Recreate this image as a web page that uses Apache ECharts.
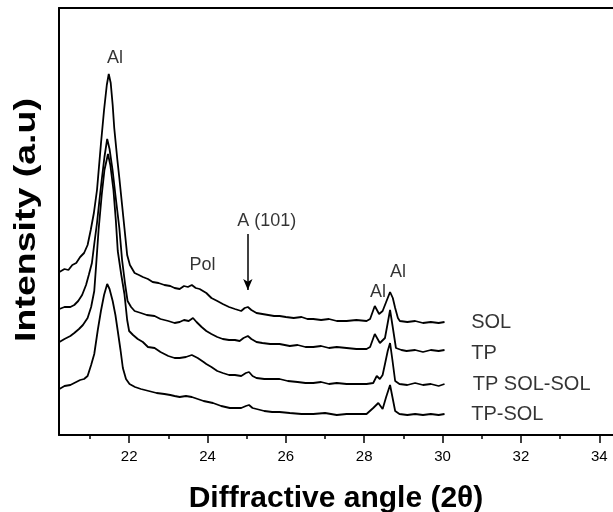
<!DOCTYPE html>
<html>
<head>
<meta charset="utf-8">
<script src="https://cdn.jsdelivr.net/npm/echarts@6/dist/echarts.min.js"></script>
<style>
  html, body { margin: 0; padding: 0; background: #fff; }
  #chart { width: 613px; height: 512px; }
</style>
</head>
<body>
<div id="chart"></div>
<script>
// XRD patterns, intensity in arbitrary units (curves stacked by offset)
var sol = [
  [20.22,163],[20.35,166],[20.45,165],[20.55,170],[20.65,172],[20.75,178],[20.85,182],[20.94,190],
  [21.02,205],[21.10,222],[21.18,245],[21.28,291],[21.36,325],[21.43,350],[21.48,361],[21.53,352],
  [21.58,330],[21.62,307],[21.70,275],[21.75,257],[21.82,230],[21.88,207],[21.95,180],[22.02,170],
  [22.14,162],[22.25,160],[22.35,158],[22.48,156],[22.60,153],[22.75,152],[22.90,150],[23.05,149],
  [23.16,147],[23.29,146],[23.40,149],[23.50,148],[23.60,150],[23.70,147],[23.80,146],[23.97,142],
  [24.10,137],[24.25,134],[24.39,131],[24.55,128],[24.70,126],[24.86,124],[24.95,127],[25.03,128],
  [25.12,125],[25.25,122],[25.40,121],[25.55,120],[25.70,119],[25.84,119],[26.00,118],[26.20,117],
  [26.40,118],[26.55,116],[26.70,116],[26.90,115],[27.10,116],[27.30,114],[27.55,114],[27.80,115],
  [28.06,114],[28.15,116],[28.27,129],[28.38,121],[28.47,124],[28.56,133],[28.66,143],[28.73,137],
  [28.79,127],[28.86,117],[28.91,114],[29.10,113],[29.30,114],[29.50,112],[29.70,113],[29.90,112],[30.05,113]
];
var tp = [
  [20.22,126],[20.35,128],[20.50,128],[20.60,130],[20.70,134],[20.80,140],[20.90,150],[20.97,160],
  [21.05,172],[21.11,191],[21.18,212],[21.24,234],[21.30,255],[21.37,278],[21.44,296],[21.50,286],
  [21.58,264],[21.65,240],[21.75,207],[21.82,175],[21.90,150],[21.96,134],[22.05,128],[22.14,124],
  [22.30,122],[22.45,120],[22.65,119],[22.80,116],[23.00,114],[23.16,112],[23.29,113],[23.40,115],
  [23.52,114],[23.63,117],[23.72,113],[23.85,108],[23.97,104],[24.10,101],[24.25,98],[24.39,96],
  [24.55,95],[24.70,95],[24.82,94],[24.92,97],[25.03,99],[25.12,96],[25.25,93],[25.40,92],
  [25.60,91],[25.84,91],[26.10,89],[26.30,90],[26.50,88],[26.70,88],[26.90,89],[27.10,87],
  [27.30,88],[27.55,87],[27.80,86],[28.06,86],[28.15,88],[28.27,101],[28.40,92],[28.53,97],
  [28.60,112],[28.66,125],[28.72,110],[28.81,87],[28.95,85],[29.08,84],[29.30,85],[29.50,83],
  [29.70,85],[29.90,84],[30.05,85]
];
var tpSolSol = [
  [20.22,93],[20.35,96],[20.50,99],[20.60,102],[20.72,106],[20.82,110],[20.94,117],[21.03,128],
  [21.11,144],[21.16,171],[21.22,205],[21.30,240],[21.37,265],[21.46,281],[21.52,270],[21.60,245],
  [21.66,215],[21.71,184],[21.80,160],[21.88,141],[21.95,115],[22.00,104],[22.10,100],[22.22,96],
  [22.35,93],[22.48,88],[22.65,87],[22.80,83],[23.00,79],[23.16,77],[23.29,77],[23.45,78],
  [23.60,80],[23.75,77],[23.90,73],[23.97,71],[24.10,68],[24.25,64],[24.39,62],[24.55,60],
  [24.70,60],[24.86,59],[24.98,62],[25.06,63],[25.15,59],[25.25,57],[25.45,56],[25.65,56],
  [25.84,56],[26.05,54],[26.30,53],[26.50,52],[26.70,52],[26.90,53],[27.10,51],[27.30,52],
  [27.55,51],[27.80,51],[28.06,51],[28.23,52],[28.32,59],[28.40,56],[28.47,60],[28.53,71],
  [28.60,84],[28.66,92],[28.72,75],[28.79,54],[28.90,51],[29.10,50],[29.30,52],[29.50,50],
  [29.70,51],[29.90,49],[30.05,51]
];
var tpSol = [
  [20.22,46],[20.35,49],[20.50,50],[20.60,52],[20.75,55],[20.85,56],[20.94,59],[21.03,70],
  [21.11,81],[21.20,105],[21.28,124],[21.36,140],[21.44,151],[21.50,146],[21.58,134],[21.65,120],
  [21.71,104],[21.78,85],[21.84,67],[21.92,56],[22.01,51],[22.15,48],[22.30,46],[22.50,44],
  [22.70,42],[22.90,41],[23.05,40],[23.16,39],[23.29,38],[23.45,39],[23.60,38],[23.75,36],
  [23.90,34],[24.14,32],[24.35,29],[24.57,27],[24.75,27],[24.86,27],[24.98,29],[25.06,30],
  [25.15,27],[25.25,26],[25.45,24],[25.65,23],[25.84,23],[26.10,22],[26.40,21],[26.70,21],
  [27.00,22],[27.30,20],[27.55,21],[27.80,21],[28.06,21],[28.23,27],[28.36,32],[28.47,26],
  [28.56,38],[28.66,50],[28.72,38],[28.79,24],[28.90,21],[29.10,20],[29.30,21],[29.50,20],
  [29.70,21],[29.90,20],[30.05,21]
];
var majorTicks = [22, 24, 26, 28, 30, 32, 34];
var minorTicks = [21, 23, 25, 27, 29, 31, 33];
// peak labels: x, intensity, text
var peakNotes = [
  [21.64, 377, 'Al'],
  [23.87, 170, 'Pol'],
  [25.51, 214, 'A (101)'],
  [28.86, 163, 'Al'],
  [28.35, 143, 'Al']
];
// sample names at the right, left aligned
var sampleNotes = [
  [30.73, 113, 'SOL'],
  [30.73, 82, 'TP'],
  [30.77, 51, 'TP SOL-SOL'],
  [30.73, 21, 'TP-SOL']
];
var arrowA = [[25.03, 201], [25.03, 145]];

var font = 'Liberation Sans, Arial, sans-serif';
var xMin = 20.21, xMax = 34.35;
var chart = echarts.init(document.getElementById('chart'));

function curve(name, data) {
  return {
    name: name,
    type: 'line',
    data: data,
    symbol: 'none',
    lineStyle: { color: '#000', width: 1.8 }
  };
}

function notes(data, position, size) {
  return {
    type: 'scatter', data: data, symbolSize: 0, silent: true,
    itemStyle: { color: 'transparent' },
    label: {
      show: true, position: position, distance: 0, color: '#000', fontSize: size, fontFamily: font,
      formatter: function (p) { return p.value[2]; }
    }
  };
}

chart.setOption({
  animation: false,
  grid: { left: 59, right: 0, top: 8, bottom: 77, outerBoundsMode: 'none' },
  // y title is stretched along its length like the scanned original
  graphic: [{
    type: 'text', x: 27, y: 220, rotation: Math.PI / 2, scaleX: 1.25,
    style: {
      text: 'Intensity (a.u)', fill: '#000', font: 'bold 30px ' + font,
      align: 'center', verticalAlign: 'middle'
    }
  }],
  xAxis: [
    {
      type: 'value', min: xMin, max: xMax,
      axisLine: { show: true, lineStyle: { color: '#000', width: 2 } },
      axisTick: { show: true, inside: false, length: 8, customValues: majorTicks, lineStyle: { color: '#000', width: 1.5 } },
      axisLabel: { customValues: majorTicks, color: '#000', fontSize: 15, fontFamily: font, margin: 14 },
      splitLine: { show: false },
      name: 'Diffractive angle (2\u03b8)', nameLocation: 'middle', nameGap: 49,
      nameTextStyle: { fontSize: 30, fontWeight: 'bold', color: '#000', fontFamily: font }
    },
    {
      type: 'value', min: xMin, max: xMax, position: 'bottom',
      axisLine: { show: false },
      axisTick: { show: true, length: 4, customValues: minorTicks, lineStyle: { color: '#000', width: 1.5 } },
      axisLabel: { show: false },
      splitLine: { show: false }
    },
    {
      type: 'value', min: xMin, max: xMax, position: 'top',
      axisLine: { show: true, lineStyle: { color: '#000', width: 2 } },
      axisTick: { show: false }, axisLabel: { show: false }, splitLine: { show: false }
    }
  ],
  yAxis: {
    type: 'value', min: 0, max: 427,
    axisLine: { show: true, lineStyle: { color: '#000', width: 2 } },
    axisTick: { show: false }, axisLabel: { show: false }, splitLine: { show: false }
  },
  series: [
    curve('SOL', sol),
    curve('TP', tp),
    curve('TP SOL-SOL', tpSolSol),
    curve('TP-SOL', tpSol),
    notes(peakNotes, 'inside', 18),
    notes(sampleNotes, 'right', 20),
    {
      type: 'line', data: [], silent: true,
      markLine: {
        silent: true, symbol: ['none', 'arrow'], symbolSize: [7, 11],
        label: { show: false },
        lineStyle: { color: '#000', width: 1.5, type: 'solid' },
        data: [[{ coord: arrowA[0] }, { coord: arrowA[1] }]]
      }
    }
  ]
});
</script>
</body>
</html>
